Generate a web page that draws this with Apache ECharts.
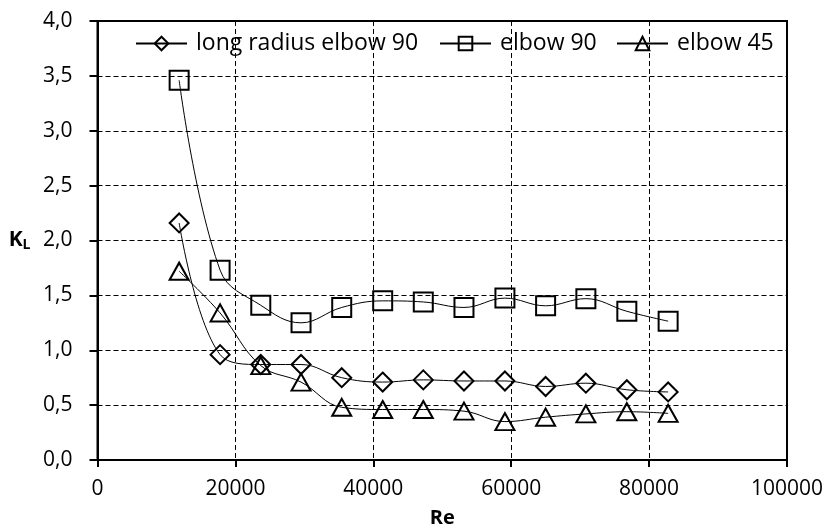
<!DOCTYPE html>
<html>
<head>
<meta charset="utf-8">
<script src="https://cdn.jsdelivr.net/npm/echarts@6/dist/echarts.min.js"></script>
<style>html,body{margin:0;padding:0;background:#fff}#c{width:830px;height:526px}</style>
</head>
<body>
<div id="c"></div>
<script>
const reValues = [11840, 17780, 23680, 29520, 35420, 41360, 47250, 53150, 59090, 64990, 70830, 76770, 82760];
const longRadius90 = [2.16, 0.96, 0.87, 0.87, 0.75, 0.71, 0.73, 0.72, 0.72, 0.67, 0.70, 0.64, 0.62];
const elbow90 = [3.46, 1.73, 1.41, 1.25, 1.39, 1.45, 1.44, 1.39, 1.475, 1.405, 1.47, 1.355, 1.265];
const elbow45 = [1.72, 1.34, 0.86, 0.71, 0.48, 0.46, 0.46, 0.445, 0.35, 0.39, 0.42, 0.44, 0.425];
const seriesNames = ['long radius elbow 90', 'elbow 90', 'elbow 45'];
const seriesSymbols = ['diamond', 'rect', 'triangle'];
const seriesData = [longRadius90, elbow90, elbow45];

const FONT = 'Open Sans';
const chart = echarts.init(document.getElementById('c'), null, {renderer: 'canvas'});

function pairs(ys) { return reValues.map((x, i) => [x, ys[i]]); }

const legendLefts = [135, 439, 616];
const option = {
  animation: false,
  backgroundColor: '#fff',
  grid: {left: 97.5, right: 43, top: 21, bottom: 66, show: true, borderColor: '#000', borderWidth: 2,
         outerBoundsMode: 'none', containLabel: false},
  legend: seriesNames.map((n, i) => ({
    data: [n], left: legendLefts[i], top: 32, padding: 0,
    itemWidth: 51, itemHeight: 17,
    textStyle: {fontFamily: FONT, fontSize: 23, color: '#000', padding: [0, 0, 0, 4]}
  })),
  xAxis: {
    type: 'value', min: 0, max: 100000, interval: 20000,
    name: 'Re', nameLocation: 'middle', nameGap: 48, nameMoveOverlap: false,
    nameTextStyle: {fontFamily: FONT, fontSize: 20, fontWeight: 'bold', color: '#000'},
    axisLine: {show: true, lineStyle: {color: '#000', width: 2}},
    axisTick: {show: true, inside: false, length: 7, lineStyle: {color: '#000', width: 2}},
    axisLabel: {fontFamily: FONT, fontSize: 21, color: '#000', margin: 19,
      formatter: v => String(v)},
    splitLine: {show: true, lineStyle: {color: '#000', width: 1, type: [5, 3]}}
  },
  yAxis: {
    type: 'value', min: 0, max: 4, interval: 0.5,
    name: '{k|K}{l|L}', nameLocation: 'middle', nameGap: 67, nameRotate: 0, nameMoveOverlap: false,
    nameTextStyle: {
      rich: {
        k: {fontFamily: FONT, fontSize: 21, fontWeight: 'bold', color: '#000'},
        l: {fontFamily: FONT, fontSize: 14, fontWeight: 'bold', color: '#000', padding: [10, 0, 0, 0]}
      }
    },
    axisLine: {show: true, lineStyle: {color: '#000', width: 2}},
    axisTick: {show: true, inside: false, length: 8, lineStyle: {color: '#000', width: 2}},
    axisLabel: {fontFamily: FONT, fontSize: 21, color: '#000', margin: 25,
      formatter: v => v.toFixed(1).replace('.', ',')},
    splitLine: {show: true, lineStyle: {color: '#000', width: 1, type: [5, 3]}}
  },
  series: seriesNames.map((n, i) => ({
    name: n, type: 'line', data: pairs(seriesData[i]),
    smooth: 0.4,
    symbol: seriesSymbols[i],
    symbolSize: i === 2 ? [19, 17] : 19,
    showAllSymbol: true,
    lineStyle: {color: '#000', width: 1},
    itemStyle: {color: 'rgba(255,255,255,0)', borderColor: '#000', borderWidth: 2},
    emphasis: {disabled: true},
    z: 3 - i
  }))
};
chart.setOption(option);
</script>
</body>
</html>
